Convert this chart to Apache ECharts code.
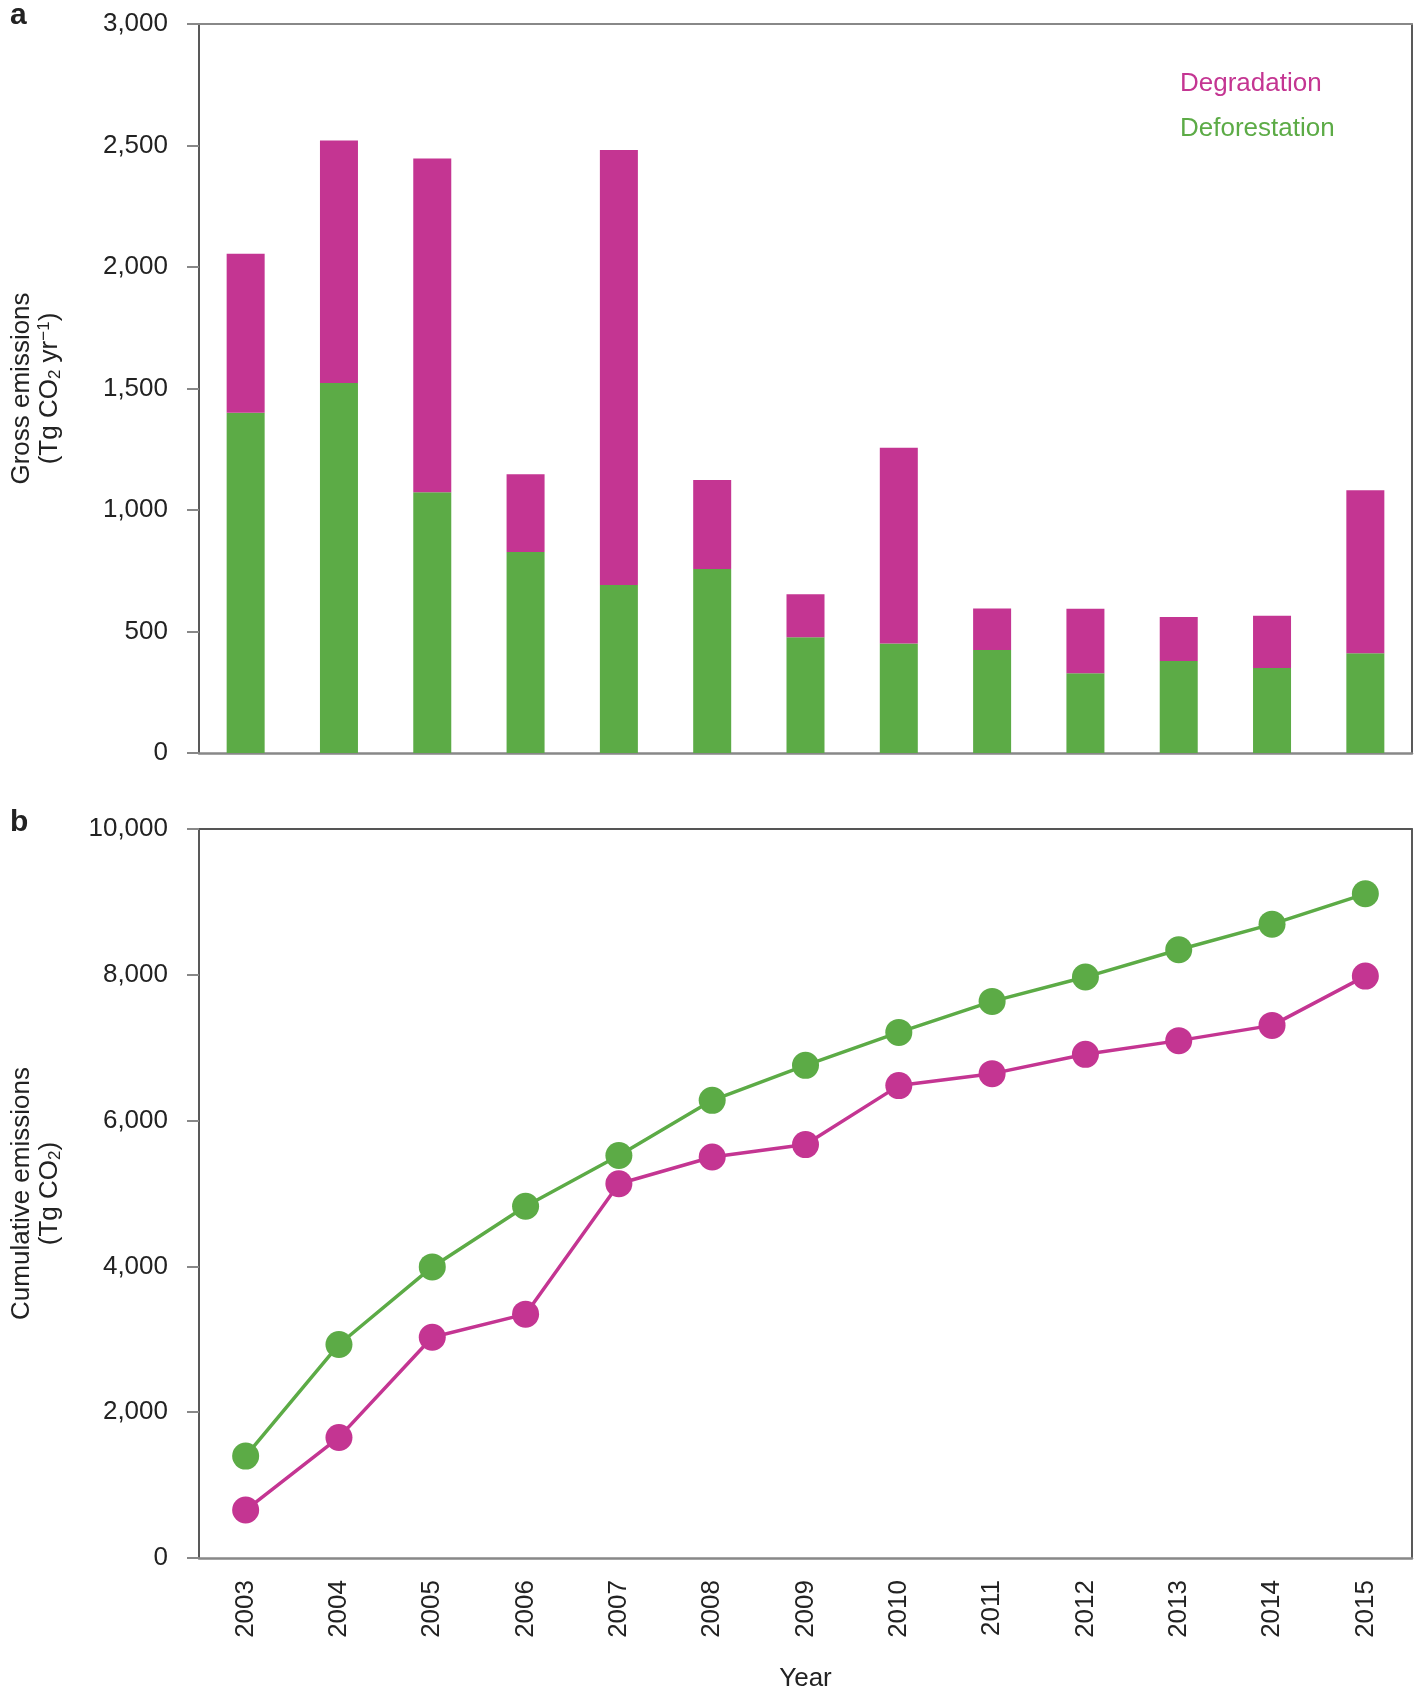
<!DOCTYPE html>
<html>
<head>
<meta charset="utf-8">
<script src="https://cdn.jsdelivr.net/npm/echarts@6/dist/echarts.min.js"></script>
<style>
html,body{margin:0;padding:0;background:#fff;}
#chart{width:1414px;height:1693px;}
</style>
</head>
<body>
<div id="chart"></div>
<script>
const years = ['2003','2004','2005','2006','2007','2008','2009','2010','2011','2012','2013','2014','2015'];
const deforestation = [1400,1523,1073,827,691,757,476,451,424,328,379,350,410];
const degradation = [655,998,1374,320,1790,366,177,805,171,266,181,215,671];
const cumDeforestation = [1398,2929,3993,4825,5522,6278,6758,7210,7635,7969,8344,8695,9111];
const cumDegradation = [658,1654,3029,3345,5133,5501,5671,6480,6644,6909,7097,7306,7982];
const topTicks = {min:0, max:3000, interval:500};
const bottomTicks = {min:0, max:10000, interval:2000};

const GREEN = '#5cab46';
const MAGENTA = '#c43592';
const FONT = '"Liberation Sans", Arial, Helvetica, sans-serif';
const TXT = '#222';

function fmt(v){ return String(v).replace(/\B(?=(\d{3})+(?!\d))/g, ','); }

const nameRich = {
  sub: {fontSize:17, lineHeight:8, verticalAlign:'bottom', fontFamily:FONT, color:TXT},
  sup: {fontSize:17, lineHeight:10, verticalAlign:'top', fontFamily:FONT, color:TXT}
};

function yAxisLeft(grid, ticks, name){
  return {
    type:'value', gridIndex:grid, min:ticks.min, max:ticks.max, interval:ticks.interval,
    position:'left',
    axisLine:{show:true, onZero:false, lineStyle:{color:'#222', width:1.5}},
    axisTick:{show:true, length:12, lineStyle:{color:'#888', width:2}},
    axisLabel:{margin:31, fontSize:26, color:TXT, fontFamily:FONT, formatter:fmt},
    splitLine:{show:false},
    name:name, nameLocation:'middle', nameGap:135, nameRotate:90,
    nameTextStyle:{fontSize:26, lineHeight:28, color:TXT, fontFamily:FONT, align:'center', rich:nameRich}
  };
}
function yAxisRight(grid, ticks){
  return {
    type:'value', gridIndex:grid, min:ticks.min, max:ticks.max, interval:ticks.interval,
    position:'right',
    axisLine:{show:true, onZero:false, lineStyle:{color:'#222', width:1.5}},
    axisTick:{show:false}, axisLabel:{show:false}, splitLine:{show:false}
  };
}
function xAxisTop(grid, color){
  return {
    type:'category', gridIndex:grid, data:years, position:'top',
    axisLine:{show:true, onZero:false, lineStyle:{color:color, width:2}},
    axisTick:{show:false}, axisLabel:{show:false}, splitLine:{show:false}
  };
}

const chart = echarts.init(document.getElementById('chart'), null, {renderer:'canvas'});
chart.setOption({
  backgroundColor:'#fff',
  animation:false,
  textStyle:{fontFamily:FONT},
  title:[
    {text:'a', left:5, top:-4, textStyle:{fontSize:30, fontWeight:'bold', color:'#222', fontFamily:FONT}},
    {text:'b', left:5, top:803, textStyle:{fontSize:30, fontWeight:'bold', color:'#222', fontFamily:FONT}}
  ],
  legend:{
    orient:'vertical', left:1170, top:66,
    icon:'none', itemWidth:0, itemHeight:26, itemGap:19,
    selectedMode:false,
    data:[
      {name:'Degradation', textStyle:{color:MAGENTA}},
      {name:'Deforestation', textStyle:{color:GREEN}}
    ],
    textStyle:{fontSize:26, lineHeight:26, fontFamily:FONT}
  },
  grid:[
    {left:198, top:24, width:1214, height:729, containLabel:false},
    {left:198, top:829, width:1214, height:729, containLabel:false}
  ],
  xAxis:[
    {type:'category', gridIndex:0, data:years, position:'bottom',
     axisLine:{show:true, onZero:false, lineStyle:{color:'#888', width:2.5}},
     axisTick:{show:false}, axisLabel:{show:false}, splitLine:{show:false}},
    xAxisTop(0, '#888'),
    {type:'category', gridIndex:1, data:years, position:'bottom',
     axisLine:{show:true, onZero:false, lineStyle:{color:'#888', width:2.5}},
     axisTick:{show:false},
     axisLabel:{rotate:90, margin:22, fontSize:26, color:TXT, fontFamily:FONT, interval:0},
     splitLine:{show:false},
     name:'Year', nameLocation:'middle', nameGap:108,
     nameTextStyle:{fontSize:26, color:TXT, fontFamily:FONT}},
    xAxisTop(1, '#555')
  ],
  yAxis:[
    yAxisLeft(0, topTicks, 'Gross emissions\n(Tg CO{sub|2} yr{sup|−1})'),
    yAxisRight(0, topTicks),
    yAxisLeft(1, bottomTicks, 'Cumulative emissions\n(Tg CO{sub|2})'),
    yAxisRight(1, bottomTicks)
  ],
  series:[
    {name:'Deforestation', type:'bar', stack:'g', xAxisIndex:0, yAxisIndex:0,
     data:deforestation, barWidth:38, itemStyle:{color:GREEN}},
    {name:'Degradation', type:'bar', stack:'g', xAxisIndex:0, yAxisIndex:0,
     data:degradation, barWidth:38, itemStyle:{color:MAGENTA}},
    {name:'Deforestation', type:'line', xAxisIndex:2, yAxisIndex:2,
     data:cumDeforestation, symbol:'circle', symbolSize:27,
     lineStyle:{color:GREEN, width:3.5}, itemStyle:{color:GREEN}},
    {name:'Degradation', type:'line', xAxisIndex:2, yAxisIndex:2,
     data:cumDegradation, symbol:'circle', symbolSize:27,
     lineStyle:{color:MAGENTA, width:3.5}, itemStyle:{color:MAGENTA}}
  ]
});
</script>
</body>
</html>
